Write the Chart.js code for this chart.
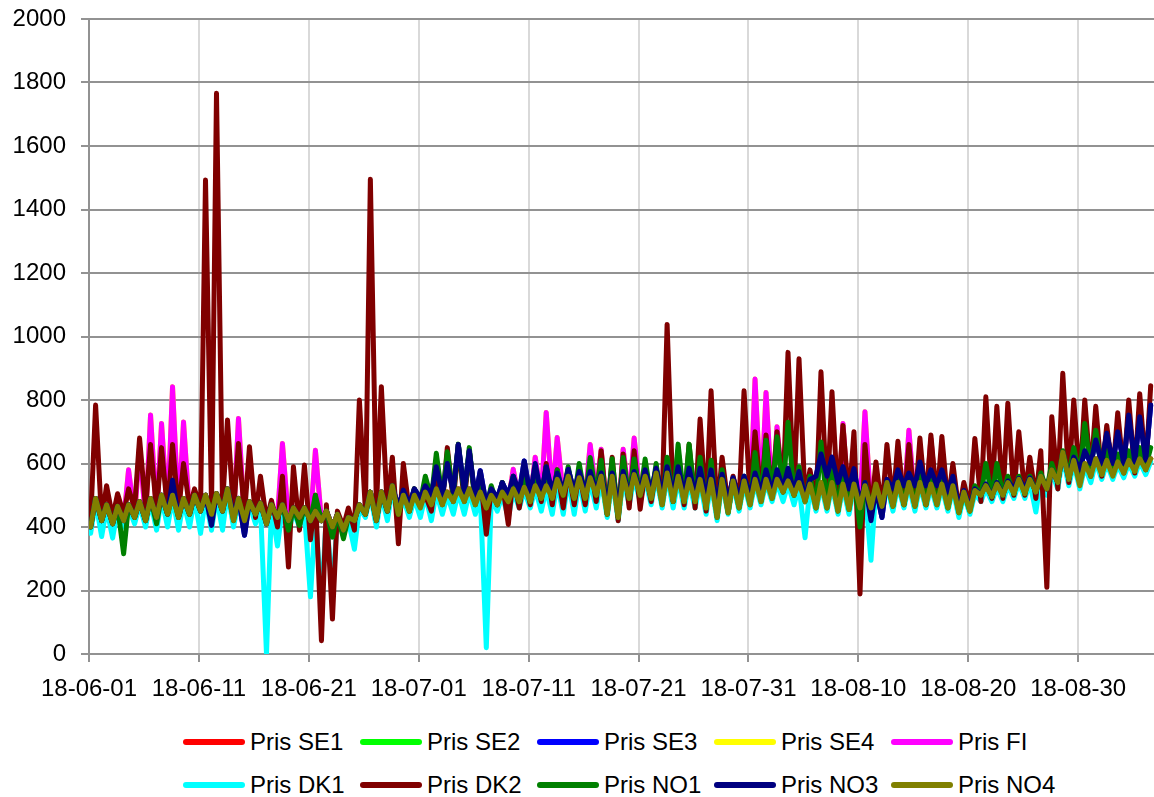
<!DOCTYPE html>
<html lang="sv">
<head>
<meta charset="utf-8">
<title>Priser</title>
<script src="https://cdn.jsdelivr.net/npm/chart.js@4.4.1/dist/chart.umd.min.js"></script>
<style>
    html, body { margin: 0; padding: 0; background: #fff; }
    #ram { position: relative; width: 1154px; height: 797px; font-family: "Liberation Sans", Arial, sans-serif; }
    #diagram { position: absolute; left: 0; top: 0; }
    #legend { position: absolute; left: 183px; top: 720px; display: grid; grid-template-columns: repeat(5, 177px); }
    .post { display: flex; align-items: center; height: 43px; font-size: 24px; color: #000; white-space: nowrap; }
    .post .linje { width: 62px; height: 6px; border-radius: 3px; margin-right: 5px; flex: none; }
</style>
</head>
<body>
<div id="ram">
    <canvas id="diagram" width="1154" height="710"></canvas>
    <div id="legend"></div>
</div>
<script>
// ================= DATA =================
// Ett varde per dygn: natt (lagsta) och dag (hogsta), avlast ur bilden. Dag 0 = 18-06-01.
const datumEtiketter = ["18-06-01", "18-06-11", "18-06-21", "18-07-01", "18-07-11",
                        "18-07-21", "18-07-31", "18-08-10", "18-08-20", "18-08-30"];
const etikettDagar = [0, 10, 20, 30, 40, 50, 60, 70, 80, 90];

const no4Natt = [400,420,410,420,430,420,430,440,430,440,
                 450,440,450,420,420,440,410,430,420,430,
                 420,420,400,390,420,440,420,450,440,450,
                 460,470,470,480,480,470,460,470,480,480,
                 480,490,490,500,490,490,500,440,430,490,
                 500,490,470,480,480,480,460,430,445,460,
                 470,480,490,510,500,480,460,460,450,455,
                 460,460,465,465,470,465,470,470,460,445,
                 450,500,495,500,505,505,510,520,540,550,
                 530,560,565,560,570,575,580];
const no4Dag = [490,470,465,470,480,490,500,500,490,500,
                500,505,520,490,480,475,470,470,460,460,
                450,450,440,430,470,510,510,530,500,500,
                510,520,510,520,520,510,500,510,520,525,
                530,530,550,560,555,555,560,560,560,565,
                560,570,570,560,550,550,550,550,545,545,
                550,550,550,545,540,535,540,540,535,535,
                530,535,540,540,540,540,535,535,530,510,
                515,530,535,540,550,550,560,580,635,610,
                600,615,610,605,610,615,615];

const no3Natt = [400,420,410,420,430,420,430,440,430,440,
                 450,405,450,437,374,440,410,430,420,430,
                 420,420,400,390,420,440,420,450,460,470,
                 490,500,500,510,510,490,470,490,500,510,
                 500,500,510,510,510,510,510,470,460,500,
                 510,510,500,500,500,500,490,470,480,490,
                 500,510,510,520,510,490,560,560,540,520,
                 470,420,430,520,530,530,530,530,510,460,
                 460,500,495,500,520,520,510,520,540,550,
                 580,600,600,600,600,605,610];
const no3Dag = [490,470,465,470,480,490,500,547,490,500,
                500,505,520,490,480,475,470,470,460,460,
                450,450,440,430,470,510,510,530,516,520,
                530,590,600,660,640,577,520,540,560,608,
                600,590,570,582,575,575,570,570,575,575,
                580,585,590,590,585,585,580,566,555,560,
                570,580,580,585,575,550,630,620,590,584,
                540,520,550,580,570,605,580,580,560,515,
                520,535,540,545,553,555,560,580,635,620,
                640,674,695,700,753,747,784];

const no1Natt = [400,420,410,316,430,420,410,440,430,440,
                 450,440,450,420,420,440,410,430,390,405,
                 420,420,368,363,420,440,420,450,440,450,
                 480,490,490,500,500,470,460,470,480,480,
                 480,490,490,500,490,490,500,440,430,490,
                 500,490,470,480,480,480,460,430,445,460,
                 470,480,490,510,500,480,460,460,450,455,
                 400,460,465,465,470,465,470,470,460,445,
                 450,500,495,500,505,505,510,520,540,560,
                 560,580,580,580,585,590,590];
const no1Dag = [490,470,465,470,480,490,500,500,490,500,
                500,505,520,490,480,475,470,470,460,460,
                500,450,440,430,470,510,510,530,510,520,
                560,632,637,661,650,560,530,540,560,580,
                580,590,580,590,600,619,610,615,619,614,
                614,600,620,661,661,620,610,580,550,560,
                635,673,684,730,590,560,668,590,580,560,
                540,530,540,560,560,570,560,560,540,510,
                530,600,600,560,560,560,570,600,640,650,
                726,705,640,630,640,650,650];

const dk2Natt = [420,420,430,440,460,460,450,450,450,460,
                 460,470,470,450,440,430,420,400,274,390,
                 360,42,110,400,390,450,460,450,347,450,
                 470,450,470,480,480,480,377,470,408,460,
                 470,480,470,460,470,470,480,440,420,460,
                 456,480,490,480,470,460,450,440,470,480,
                 490,500,500,510,500,490,470,480,480,480,
                 189,440,450,470,470,470,470,480,470,450,
                 460,480,490,490,500,500,490,210,520,540,
                 540,560,560,570,570,570,580];
const dk2Dag = [784,530,505,520,680,660,650,660,600,520,
                1493,1766,737,663,653,560,484,560,590,595,
                500,470,450,460,800,1495,842,620,600,520,
                500,560,650,660,640,560,520,540,560,560,
                570,600,580,580,570,600,640,620,630,640,
                580,580,1038,640,660,740,829,620,560,829,
                700,690,700,950,930,580,889,826,720,700,
                660,605,660,670,660,680,690,685,600,540,
                679,810,780,790,700,620,640,747,884,800,
                800,780,720,760,800,820,845];

const dk1Natt = [380,370,365,400,410,400,390,400,390,400,
                 380,390,390,400,400,410,0,340,380,400,
                 180,160,190,380,330,430,400,420,430,430,
                 430,420,440,440,440,440,20,450,430,460,
                 460,450,440,440,440,450,460,430,420,470,
                 480,470,460,460,460,460,440,420,440,450,
                 460,470,480,480,470,366,450,450,440,440,
                 450,295,450,450,460,450,460,460,450,430,
                 440,480,480,480,490,490,447,500,520,530,
                 520,540,550,550,555,560,565];
const dk1Dag = [480,460,455,460,470,480,490,490,480,490,
                490,495,510,480,470,465,460,460,450,450,
                440,440,430,420,460,500,500,520,490,490,
                500,510,500,510,510,500,490,500,510,515,
                520,520,540,550,545,545,550,550,550,555,
                550,560,560,550,540,540,540,540,535,535,
                540,540,540,535,530,525,530,530,525,525,
                520,525,530,530,530,530,525,525,520,500,
                505,520,525,530,540,540,550,570,620,600,
                590,605,600,595,600,605,605];

const fiNatt = [400,420,410,420,430,420,430,440,430,440,
                450,440,450,420,420,440,410,430,420,430,
                420,420,400,390,420,440,420,450,440,450,
                460,470,470,480,480,470,460,470,480,480,
                480,490,490,500,490,490,500,440,430,490,
                500,490,470,480,480,480,460,430,445,460,
                470,480,490,510,500,480,460,460,450,455,
                460,460,465,465,470,465,470,470,460,445,
                450,500,495,500,505,505,510,520,540,550,
                530,560,565,560,570,575,580];
const fiDag = [490,470,465,580,653,753,726,842,731,500,
               500,505,520,742,480,475,470,663,460,460,
               642,450,440,430,470,510,510,530,500,500,
               510,520,510,520,520,510,500,510,582,600,
               620,761,682,560,555,660,645,560,645,680,
               560,570,570,560,550,550,550,590,545,545,
               866,824,716,545,540,535,540,540,726,535,
               763,535,540,540,705,540,679,535,530,510,
               515,530,535,540,550,550,560,580,635,610,
               600,615,610,605,610,615,615];

// SE-omradena syns inte i bilden, de ligger helt under linjerna ovan
const se1Natt = no4Natt, se1Dag = no4Dag;
const se2Natt = no4Natt, se2Dag = no4Dag;
const se3Natt = no3Natt, se3Dag = no3Dag;
const se4Natt = fiNatt, se4Dag = fiDag;

const serieNamn = ["Pris SE1", "Pris SE2", "Pris SE3", "Pris SE4", "Pris FI",
                   "Pris DK1", "Pris DK2", "Pris NO1", "Pris NO3", "Pris NO4"];
const serieFarg = ["#ff0000", "#00ff00", "#0000ff", "#ffff00", "#ff00ff",
                   "#00ffff", "#800000", "#008000", "#000080", "#808000"];
const serieNatt = [se1Natt, se2Natt, se3Natt, se4Natt, fiNatt, dk1Natt, dk2Natt, no1Natt, no3Natt, no4Natt];
const serieDag = [se1Dag, se2Dag, se3Dag, se4Dag, fiDag, dk1Dag, dk2Dag, no1Dag, no3Dag, no4Dag];

// ================= HJALPFUNKTIONER =================
function byggPunkter(natt, dag) {
    const punkter = [];
    natt.forEach((v, d) => {
        punkter.push({ x: d + 0.15, y: v });
        punkter.push({ x: d + 0.6, y: dag[d] });
    });
    return punkter;
}

function byggLegend() {
    const legend = document.getElementById("legend");
    serieNamn.forEach((namn, i) => {
        const post = document.createElement("div");
        post.className = "post";
        post.innerHTML = `<span class="linje" style="background:${serieFarg[i]}"></span><span>${namn}</span>`;
        legend.appendChild(post);
    });
}

// ================= DIAGRAM =================
const typsnitt = { family: "'Liberation Sans', Arial, sans-serif", size: 24 };

const dataset = serieNamn.map((namn, i) => ({
    label: namn,
    data: byggPunkter(serieNatt[i], serieDag[i]),
    borderColor: serieFarg[i],
    backgroundColor: serieFarg[i],
    order: serieNamn.length - i   // sista serien ritas overst, som i Excel
}));

new Chart(document.getElementById("diagram"), {
    type: "line",
    data: { datasets: dataset },
    options: {
        responsive: false,
        animation: false,
        layout: { padding: 0 },
        plugins: { legend: { display: false }, tooltip: { enabled: false } },
        elements: {
            point: { radius: 0 },
            line: { borderWidth: 5, tension: 0, borderJoinStyle: "round", borderCapStyle: "round" }
        },
        scales: {
            x: {
                type: "linear",
                min: 0,
                max: 96.9,
                afterBuildTicks: s => { s.ticks = etikettDagar.map(v => ({ value: v })); },
                afterFit: s => { s.height = 56; },
                ticks: {
                    callback: (v, i) => datumEtiketter[i],
                    font: typsnitt,
                    color: "#000",
                    padding: 13,
                    maxRotation: 0,
                    autoSkip: false
                },
                grid: { color: "#d9d9d9", lineWidth: 2, tickColor: "#929292", tickLength: 8 },
                border: { color: "#929292", width: 2 }
            },
            y: {
                min: 0,
                max: 2000,
                afterFit: s => { s.width = 89; s.paddingTop = 19; s.paddingBottom = 0; },
                ticks: { stepSize: 200, font: typsnitt, color: "#000", padding: 15, callback: v => String(v) },
                grid: { color: "#929292", lineWidth: 2, tickColor: "#929292", tickLength: 8 },
                border: { color: "#929292", width: 2 }
            }
        }
    }
});

byggLegend();
</script>
</body>
</html>
